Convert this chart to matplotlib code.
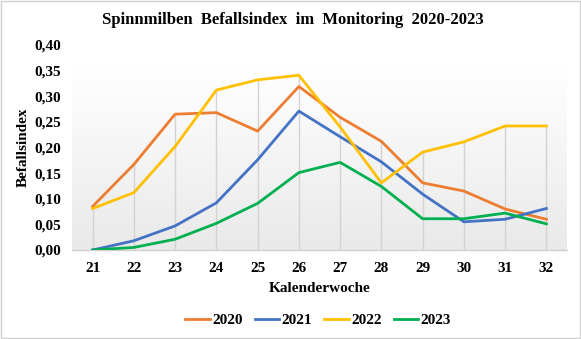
import matplotlib
matplotlib.use("Agg")
import matplotlib.pyplot as plt
import numpy as np
from matplotlib.patches import Rectangle
from matplotlib.colors import LinearSegmentedColormap

weeks = [21, 22, 23, 24, 25, 26, 27, 28, 29, 30, 31, 32]
v2020 = [0.085, 0.167, 0.265, 0.268, 0.232, 0.319, 0.259, 0.212, 0.131, 0.115, 0.080, 0.060]
v2021 = [0.000, 0.018, 0.047, 0.092, 0.176, 0.271, 0.221, 0.172, 0.109, 0.055, 0.060, 0.081]
v2022 = [0.081, 0.112, 0.202, 0.312, 0.332, 0.341, 0.240, 0.131, 0.191, 0.211, 0.242, 0.242]
v2023 = [0.000, 0.005, 0.021, 0.052, 0.091, 0.151, 0.171, 0.124, 0.061, 0.061, 0.072, 0.051]
series_labels = ["2020", "2021", "2022", "2023"]
yticks = [0.0, 0.05, 0.10, 0.15, 0.20, 0.25, 0.30, 0.35, 0.40]
colors = ["#ED7D31", "#4472C4", "#FFC000", "#00B050"]

plt.rcParams['font.family'] = ['Liberation Serif', 'DejaVu Serif']
plt.rcParams['font.weight'] = 'bold'

fig = plt.figure(figsize=(5.81, 3.39), dpi=100)
ax = fig.add_axes([72/581, 1-250/339, (567-72)/581, (250-45)/339])

# frame around figure
fig.patches.append(Rectangle((0.001, 0.002), 0.997, 0.995, transform=fig.transFigure,
                             fill=False, edgecolor="#d0d0d0", linewidth=1))

# gradient background of plot area
grad = np.linspace(0, 1, 256).reshape(-1, 1)
cmap = LinearSegmentedColormap.from_list("g", ["#e9e9e9", "#ffffff"])
ax.imshow(grad, extent=(20.5, 32.5, 0, 0.355), origin="lower", aspect="auto",
          cmap=cmap, zorder=0)

all_vals = np.array([v2020, v2021, v2022, v2023])
ax.vlines(weeks, 0, all_vals.max(axis=0), colors="#d3d3d3", linewidth=1, zorder=1)

for vals, c, lab in zip([v2020, v2021, v2022, v2023], colors, series_labels):
    ax.plot(weeks, vals, color=c, linewidth=2.0, label=lab, zorder=3, solid_joinstyle="round")

ax.set_xlim(20.5, 32.5)
ax.set_ylim(0, 0.40)
ax.set_xticks(weeks)
ax.set_xticklabels([str(w) for w in weeks])
ax.set_yticks(yticks)
ax.set_yticklabels([f"{t:.2f}".replace(".", ",") for t in yticks])
ax.tick_params(axis="both", length=0, labelsize=11)
ax.tick_params(axis="y", pad=8)
ax.tick_params(axis="x", pad=9)
for s in ["top", "right", "left"]:
    ax.spines[s].set_visible(False)
ax.spines["bottom"].set_color("#d0d0d0")
ax.spines["bottom"].set_linewidth(1)
ax.set_facecolor("none")

ax.set_xlabel("Kalenderwoche", fontsize=11, fontweight="bold", labelpad=5)
ax.set_ylabel("Befallsindex", fontsize=11, fontweight="bold", labelpad=0)
ax.yaxis.set_label_coords(-(72-30)/495, 0.5)
fig.text(293/581, 1-20/339, "Spinnmilben  Befallsindex  im  Monitoring  2020-2023",
         ha="center", va="center", fontsize=12, fontweight="bold")

leg = fig.legend(loc="center", bbox_to_anchor=(318/581, 1-320/339), ncol=4,
                 frameon=False, fontsize=11, handlelength=1.6, columnspacing=0.8,
                 handletextpad=0.15)

fig.savefig("out.png", dpi=100)
